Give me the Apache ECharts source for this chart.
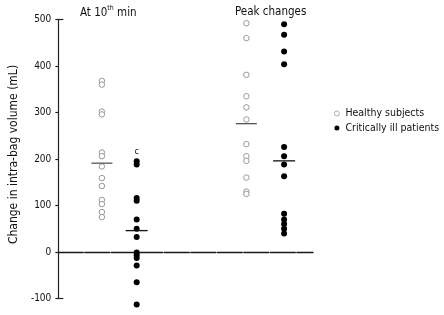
<!DOCTYPE html>
<html>
<head>
<meta charset="utf-8">
<script src="https://cdn.jsdelivr.net/npm/echarts@6/dist/echarts.min.js"></script>
<style>html,body{margin:0;padding:0;background:#fff}#c{width:444px;height:315px}</style>
</head>
<body>
<div id="c"></div>
<script>
// ---- data ----
const groups = ['At 10th min', 'Peak changes'];
const seriesNames = ['Healthy subjects', 'Critically ill patients'];
const healthy10 = [368, 360, 302, 296, 214, 206, 184, 159, 142, 112, 103, 86, 75];
const ill10 = [195, 188, 116, 110, 70, 50, 32, -1, -7, -13, -29, -65, -113];
const healthyPeak = [492, 460, 381, 335, 311, 285, 232, 206, 196, 160, 130, 125];
const illPeak = [490, 467, 431, 404, 226, 206, 188, 163, 82, 70, 60, 50, 40];
const healthyMeans = [191, 276];
const illMeans = [46, 196];
const sigMark = 'c';
const sigValue = 216;
const yTicks = [-100, 0, 100, 200, 300, 400, 500];

// ---- layout (positions along the hidden x scale) ----
const xSpan = 260;
const colX = { h10: 44.5, i10: 80, hP: 192, iP: 230.5 };
const FONT = '"DejaVu Sans Condensed", "DejaVu Sans", sans-serif';

const toPts = (x, arr) => arr.map(v => [x, v]);

const chart = echarts.init(document.getElementById('c'), null, { renderer: 'canvas' });
const option = {
  animation: false,
  backgroundColor: '#fff',
  textStyle: { fontFamily: FONT },
  grid: { left: 53, right: 444 - 313, top: 19.5, bottom: 16.5, containLabel: false },
  title: [
    {
      text: '{a|At 10}{s|th}{a| min}',
      left: 75, top: 0,
      textStyle: { fontWeight: 'normal', rich: {
        a: { fontFamily: FONT, fontSize: 11.5, fontWeight: 'normal', color: '#111', lineHeight: 14, verticalAlign: 'bottom' },
        s: { fontFamily: FONT, fontSize: 7, fontWeight: 'normal', color: '#111', lineHeight: 14, verticalAlign: 'top' }
      } }
    },
    {
      text: groups[1],
      left: 230, top: 0,
      textStyle: { fontFamily: FONT, fontSize: 11.5, fontWeight: 'normal', color: '#111', lineHeight: 14 }
    }
  ],
  legend: {
    orient: 'vertical', left: 329, top: 103,
    itemWidth: 5, itemHeight: 5, itemGap: 3.5, itemStyle: { borderWidth: 0.8 },
    data: [
      { name: seriesNames[0], icon: 'circle' },
      { name: seriesNames[1], icon: 'circle' }
    ],
    textStyle: { fontFamily: FONT, fontSize: 10.5, color: '#111', padding: [0, 0, 0, 1] }
  },
  xAxis: {
    type: 'value', min: 0, max: xSpan,
    axisLine: { show: true, onZero: true, lineStyle: { color: '#1a1a1a', width: 1.3, type: [25, 1.5] } },
    axisTick: { show: false }, axisLabel: { show: false }, splitLine: { show: false }
  },
  yAxis: {
    type: 'value', min: -100, max: 500, interval: 100,
    name: 'Change in intra-bag volume (mL)',
    nameLocation: 'middle', nameRotate: 90, nameGap: 38,
    nameTextStyle: { fontFamily: FONT, fontSize: 12, color: '#111', padding: [0, 0, 0, 9] },
    axisLine: { show: true, onZero: false, lineStyle: { color: '#222', width: 1.2 } },
    axisTick: { show: true, inside: false, length: 3, lineStyle: { color: '#222', width: 1.2 } },
    axisLabel: { fontFamily: FONT, fontSize: 10, color: '#111', margin: 7,
      formatter: v => yTicks.includes(v) ? String(v) : '' },
    splitLine: { show: false }
  },
  series: [
    {
      name: seriesNames[0], type: 'scatter', symbol: 'circle', symbolSize: 5.5, clip: false,
      itemStyle: { color: '#fff', borderColor: '#999', borderWidth: 1, opacity: 1 },
      data: toPts(colX.h10, healthy10).concat(toPts(colX.hP, healthyPeak)), z: 3
    },
    {
      name: seriesNames[1], type: 'scatter', symbol: 'circle', symbolSize: 6, clip: false,
      itemStyle: { color: '#000', borderWidth: 0, opacity: 1 },
      data: toPts(colX.i10, ill10).concat(toPts(colX.iP, illPeak)), z: 3
    },
    {
      name: 'healthy-mean', type: 'scatter', symbol: 'rect', symbolSize: [21, 1.3],
      itemStyle: { color: '#555', opacity: 1 }, silent: true, z: 4,
      data: [[colX.h10, healthyMeans[0]], [colX.hP, healthyMeans[1]]]
    },
    {
      name: 'ill-mean', type: 'scatter', symbol: 'rect', symbolSize: [22, 1.3],
      itemStyle: { color: '#111', opacity: 1 }, silent: true, z: 4,
      data: [[colX.i10, illMeans[0]], [colX.iP, illMeans[1]]]
    }
  ]
};
chart.setOption(option);

// axis end caps and significance mark
const pTop = chart.convertToPixel({ gridIndex: 0 }, [0, 500]);
const pBot = chart.convertToPixel({ gridIndex: 0 }, [0, -100]);
const pSig = chart.convertToPixel({ gridIndex: 0 }, [colX.i10, sigValue]);
chart.setOption({
  graphic: [
    { type: 'line', shape: { x1: pTop[0], y1: pTop[1], x2: pTop[0] + 5, y2: pTop[1] }, style: { stroke: '#222', lineWidth: 1.2 } },
    { type: 'line', shape: { x1: pBot[0], y1: pBot[1], x2: pBot[0] + 5, y2: pBot[1] }, style: { stroke: '#222', lineWidth: 1.2 } },
    { type: 'text', x: pSig[0], y: pSig[1], style: { text: sigMark, fill: '#111', font: '9px ' + FONT, textAlign: 'center', textVerticalAlign: 'middle' } }
  ]
});
</script>
</body>
</html>
